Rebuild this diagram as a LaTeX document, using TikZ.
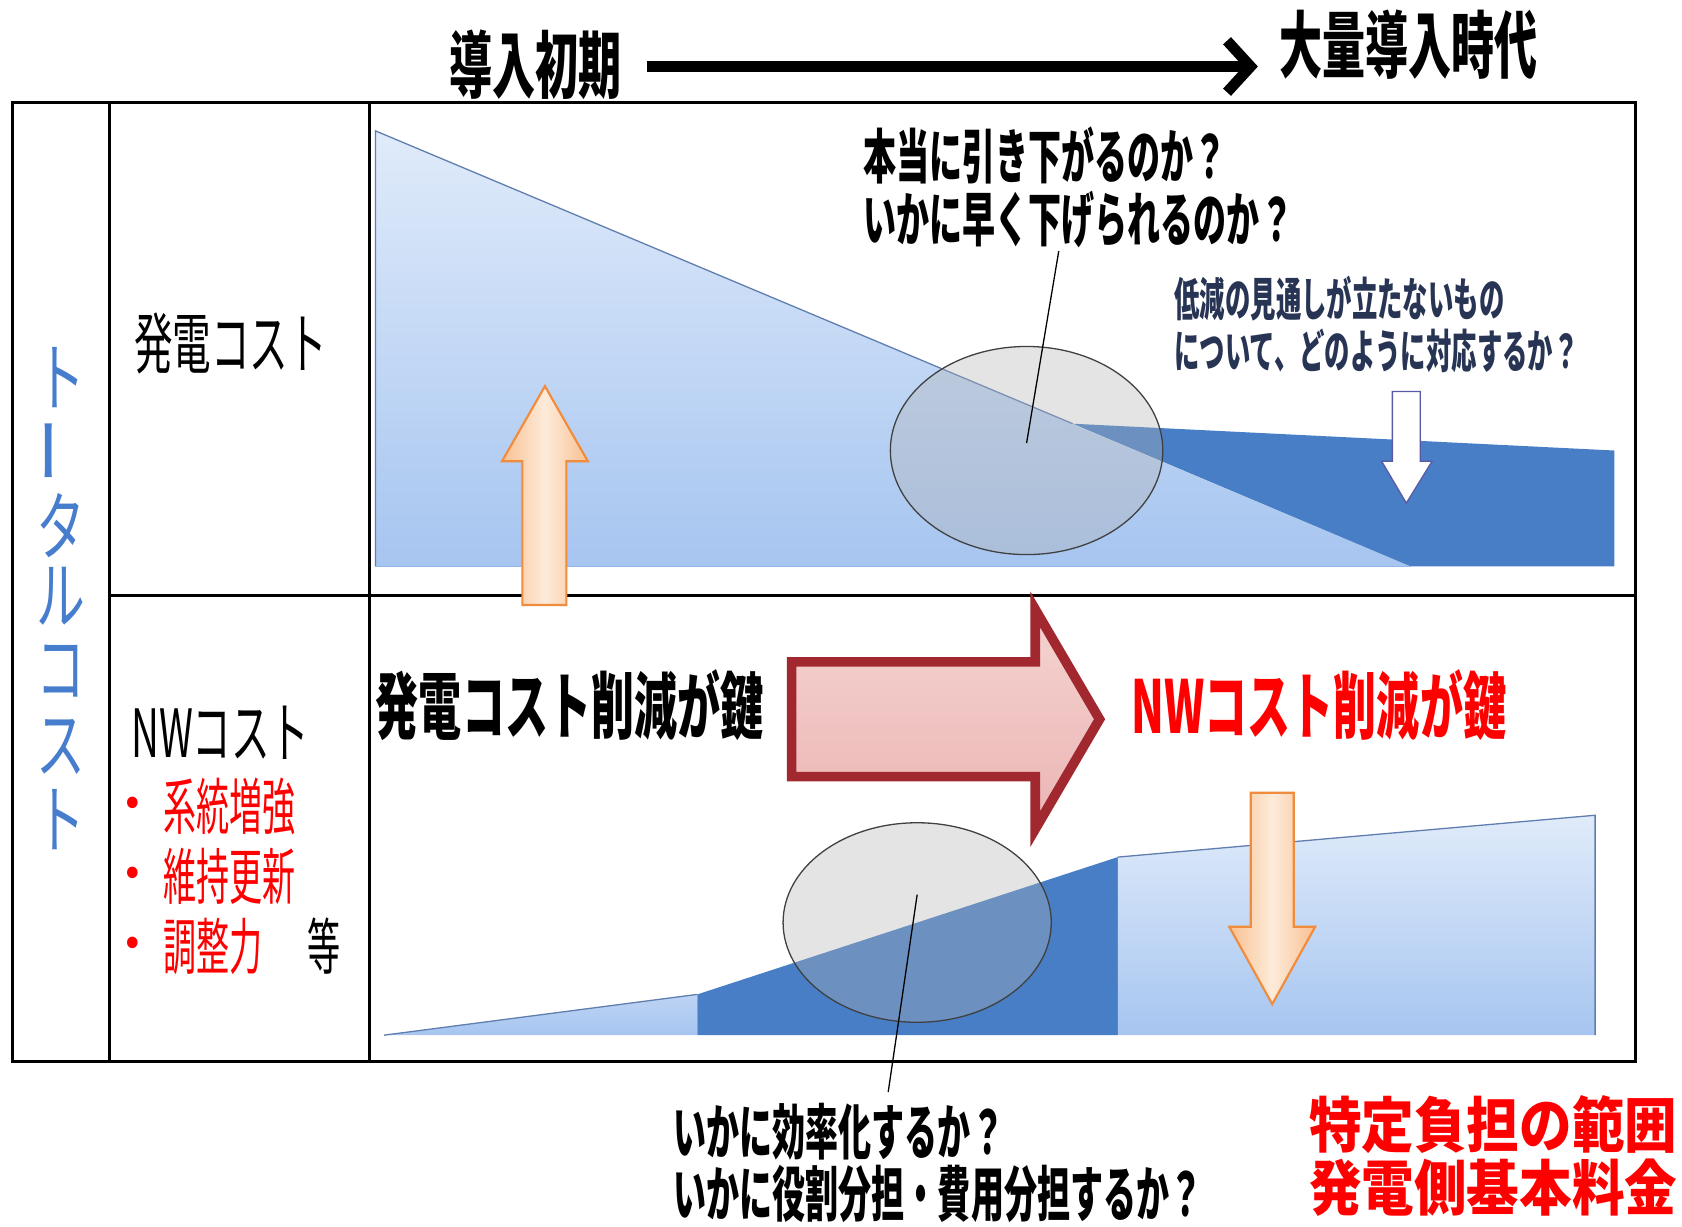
\documentclass[tikz,border=0pt]{standalone}
\usepackage{fontspec}
\newfontfamily\jp{Noto Sans CJK JP}
\usetikzlibrary{arrows.meta,shapes.geometric}
\definecolor{lblueA}{RGB}{224,235,250}
\definecolor{lblueB}{RGB}{166,197,240}
\definecolor{dblue}{RGB}{72,126,198}
\definecolor{edgeblue}{RGB}{95,125,175}
\definecolor{vblue}{RGB}{70,125,205}
\definecolor{bred}{RGB}{255,0,0}
\definecolor{darrow}{RGB}{160,40,46}
\definecolor{pinkA}{RGB}{245,212,208}
\definecolor{pinkB}{RGB}{234,180,180}
\definecolor{orA}{RGB}{253,235,218}
\definecolor{orB}{RGB}{249,192,145}
\definecolor{orline}{RGB}{240,140,60}
\definecolor{notec}{RGB}{40,52,84}
\newcommand\sq[3]{{\fontsize{#1}{#1}\selectfont\scalebox{#2}[1]{#3}}}
\begin{document}
\begin{tikzpicture}[x=0.5pt,y=-0.5pt,
  txt/.style={inner sep=0pt, outer sep=0pt, font=\jp},
  tbl/.style={line width=1.4pt, black},
  gline/.style={line width=0.6pt, edgeblue},
  ell/.style={ellipse, draw=black!75, line width=0.6pt, fill=gray!60, fill opacity=0.35, draw opacity=1, inner sep=0pt},
  orarrow/.style={draw=orline, line width=1pt, left color=orB, right color=orB, middle color=orA},
  callout/.style={line width=0.6pt, black},
  titlearrow/.style={line width=5pt, -{Straight Barb[length=11pt,width=24pt]}}]
\useasboundingbox (0,0) rectangle (1568,1143);
\fill[white] (0,0) rectangle (1568,1143);

% ---- top graph
\shade[top color=lblueA, bottom color=lblueB] (350,122) -- (1315,528) -- (350,528) -- cycle;
\fill[dblue] (1000,395) -- (1505,420) -- (1505,528) -- (1315,528) -- cycle;
\draw[gline] (350,528) -- (350,122) -- (1000,395);
\draw[gline, lblueB!80!dblue] (350,528) -- (1315,528);

% ---- bottom graph
\shade[top color=lblueA!40!lblueB, bottom color=lblueB] (358,965) -- (650,927) -- (650,965) -- cycle;
\fill[dblue] (650,927) -- (1042,799) -- (1042,965) -- (650,965) -- cycle;
\shade[top color=lblueA, bottom color=lblueB] (1042,799) -- (1487,760) -- (1487,965) -- (1042,965) -- cycle;
\draw[gline] (358,965) -- (650,927);
\draw[gline] (1042,799) -- (1487,760) -- (1487,965);

% ---- table
\draw[tbl] (12,96) rectangle (1525,990);
\draw[tbl] (102,96) -- (102,990);
\draw[tbl] (344,96) -- (344,990);
\draw[tbl] (102,555) -- (1525,555);

% ---- ellipses
\node[ell, minimum width=127pt, minimum height=97pt] (e1) at (957,420) {};
\node[ell, minimum width=125pt, minimum height=93pt] (e2) at (855,860) {};

% ---- arrows
\draw[orarrow] (487,564) -- (487,430) -- (468,430) -- (508,360) -- (548,430) -- (528,430) -- (528,564) -- cycle;
\draw[orarrow] (1166,739) -- (1166,864) -- (1146,864) -- (1186,936) -- (1226,864) -- (1206,864) -- (1206,739) -- cycle;
\draw[fill=white, draw=gray!70!blue, line width=0.6pt] (1298,365) -- (1298,430) -- (1288,430) -- (1311,469) -- (1335,430) -- (1324,430) -- (1324,365) -- cycle;
\draw[draw=darrow, line width=4.5pt, line join=miter, top color=pinkA, bottom color=pinkB]
  (738,617) -- (965,617) -- (965,568) -- (1025,670.5) -- (965,773) -- (965,724) -- (738,724) -- cycle;

% ---- header
\node[txt, font=\jp\bfseries] (t1) at (499,60) {\sq{34pt}{0.59}{導入初期}};
\node[txt, font=\jp\bfseries] (t2) at (1313,42) {\sq{34pt}{0.59}{大量導入時代}};
\draw[titlearrow] ([xshift=12pt,yshift=-1pt]t1.east) -- ([xshift=-10pt,yshift=-1pt]t2.west |- t1.east);

% ---- left vertical label
\begin{scope}[every node/.style={txt, text=vblue}]
\node (v1) at (57,352) {\sq{35pt}{0.65}{ト}};
\node[rotate=90] (v2) at (57,420) {\sq{35pt}{0.9}{ー}};
\node (v3) at (57,490) {\sq{35pt}{0.65}{タ}};
\node (v4) at (57,556) {\sq{35pt}{0.65}{ル}};
\node (v5) at (57,626) {\sq{35pt}{0.65}{コ}};
\node (v6) at (57,696) {\sq{35pt}{0.65}{ス}};
\node (v7) at (57,764) {\sq{35pt}{0.65}{ト}};
\end{scope}

% ---- row labels
\node[txt] (l1) at (215,320) {\sq{31pt}{0.58}{発電コスト}};
\node[txt] (l2) at (205,683) {\sq{31pt}{0.58}{NWコスト}};
\node[txt, text=bred] (d1) at (124,752) {\sq{20pt}{1}{•}};
\node[txt, text=bred] (d2) at (124,817) {\sq{20pt}{1}{•}};
\node[txt, text=bred] (d3) at (124,882) {\sq{20pt}{1}{•}};
\node[txt, text=bred, anchor=west] (b1) at (152,752) {\sq{28.5pt}{0.54}{系統増強}};
\node[txt, text=bred, anchor=west] (b2) at (152,817) {\sq{28.5pt}{0.54}{維持更新}};
\node[txt, text=bred, anchor=west] (b3) at (152,882) {\sq{28.5pt}{0.54}{調整力}};
\node[txt] (b4) at (302,882) {\sq{28.5pt}{0.54}{等}};

% ---- question texts
\node[txt, font=\jp\bfseries, anchor=west] (q1) at (805,145) {\sq{27.5pt}{0.56}{本当に引き下がるのか？}};
\node[txt, font=\jp\bfseries, anchor=west] (q2) at (805,205) {\sq{27.5pt}{0.56}{いかに早く下げられるのか？}};
\node[txt, font=\jp\bfseries, text=notec, anchor=west] (n1) at (1095,278) {\sq{21.5pt}{0.55}{低減の見通しが立たないもの}};
\node[txt, font=\jp\bfseries, text=notec, anchor=west] (n2) at (1095,327) {\sq{21.5pt}{0.55}{について、どのように対応するか？}};
\node[txt, font=\jp\bfseries] (k1) at (531,657) {\sq{34pt}{0.59}{発電コスト削減が鍵}};
\node[txt, font=\jp\bfseries, text=bred, anchor=west] (k2) at (1055,657) {\sq{34pt}{0.59}{NWコスト削減が鍵}};
\node[txt, font=\jp\bfseries, anchor=west] (q3) at (628,1055) {\sq{28pt}{0.55}{いかに効率化するか？}};
\node[txt, font=\jp\bfseries, anchor=west] (q4) at (628,1113) {\sq{28pt}{0.55}{いかに役割分担・費用分担するか？}};
\node[txt, font=\jp\bfseries, text=bred] (r1) at (1392,1048) {\sq{28pt}{0.875}{特定負担の範囲}};
\node[txt, font=\jp\bfseries, text=bred] (r2) at (1392,1107) {\sq{28pt}{0.875}{発電側基本料金}};

% ---- callouts
\coordinate (c1) at (987,234);
\coordinate (c2) at (828,1018);
\draw[callout] ([yshift=3.5pt]e1.center) -- (c1);
\draw[callout] ([yshift=13pt]e2.center) -- (c2);
\end{tikzpicture}
\end{document}
